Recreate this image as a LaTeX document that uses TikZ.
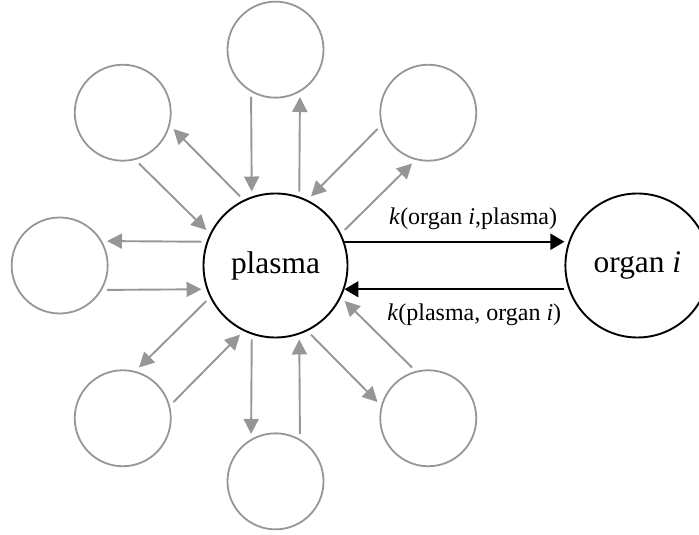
\documentclass[tikz,border=0pt]{standalone}
\usepackage{fontspec}
\setmainfont{Liberation Serif}
\usepackage{tikz}
\usetikzlibrary{positioning}
\usetikzlibrary{arrows.meta}
\definecolor{mygrey}{RGB}{150,150,150}

\begin{document}
\begin{tikzpicture}[x=0.5pt, y=0.5pt, node distance=47pt,
    hub/.style={circle, draw=black, line width=0.95pt, minimum size=72pt, inner sep=0pt, font=\fontsize{15.7}{18}\selectfont},
    pool/.style={circle, draw=mygrey, line width=0.9pt, minimum size=48pt, inner sep=0pt},
    flow/.style={draw=mygrey, line width=0.95pt, -{Triangle[length=7.5pt,width=7.5pt]}, shorten <=2.5pt, shorten >=2.5pt},
    rate/.style={line width=0.95pt, -{Triangle[length=7pt,width=8pt]}},
    lab/.style={font=\fontsize{12}{14}\selectfont}]
    \useasboundingbox (0,0) rectangle (699,534);
    \node[hub](P) at (275.5,268.5) {plasma};
    \node[hub](O) [right=108pt of P] {organ \textit{i}};
    \node[pool](N) [above=of P] {};
    \node[pool](NW) [above left=33.3pt and 33.3pt of P] {};
    \node[pool](W) [left=of P] {};
    \node[pool](SW) [below left=33.3pt and 33.3pt of P] {};
    \node[pool](S) [below=of P] {};
    \node[pool](SE) [below right=33.3pt and 33.3pt of P] {};
    \node[pool](NE) [above right=33.3pt and 33.3pt of P] {};

    \draw[rate](P.19) -- node[lab, above, pos=0.585, yshift=2pt] {\textit{k}(organ \textit{i},plasma)} (P.19 -| O.west);
    \draw[rate](P.341 -| O.west) -- node[lab, below, pos=0.41, yshift=-3.5pt] {\textit{k}(plasma, organ \textit{i})} (P.341);

    \draw[flow](N.240) -- (P.109);
    \draw[flow](P.71) -- (N.300);
    \draw[flow](NW.285) -- (P.154);
    \draw[flow](P.116) -- (NW.345);
    \draw[flow](W.330) -- (P.199);
    \draw[flow](P.161) -- (W.30);
    \draw[flow](SW.15) -- (P.244);
    \draw[flow](P.206) -- (SW.75);
    \draw[flow](S.60) -- (P.289);
    \draw[flow](P.251) -- (S.120);
    \draw[flow](SE.105) -- (P.334);
    \draw[flow](P.296) -- (SE.165);
    \draw[flow](NE.195) -- (P.64);
    \draw[flow](P.26) -- (NE.255);
\end{tikzpicture}
\end{document}
